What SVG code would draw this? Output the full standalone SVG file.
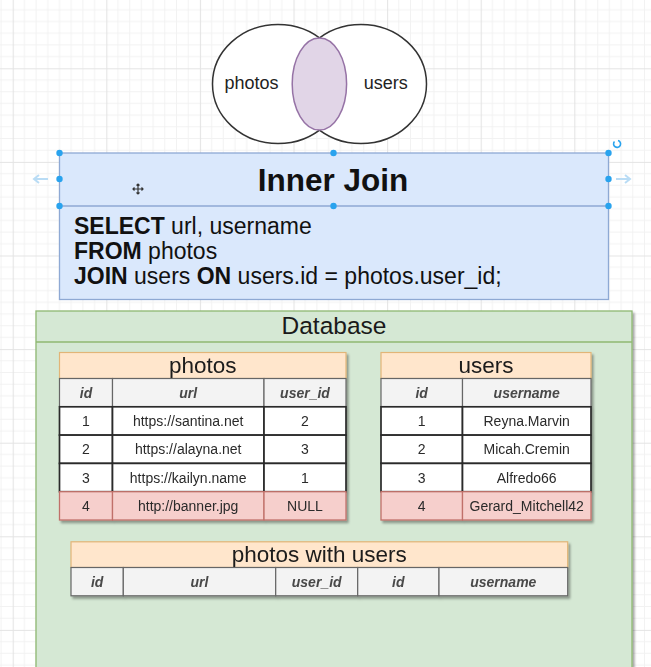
<svg xmlns="http://www.w3.org/2000/svg" width="651" height="667" viewBox="0 0 651 667">
<defs>
<pattern id="grid" patternUnits="userSpaceOnUse" x="12.7" y="68.3" width="93.6" height="93.6">
<path d="M11.7 0V93.6M23.4 0V93.6M35.1 0V93.6M46.8 0V93.6M58.5 0V93.6M70.2 0V93.6M81.9 0V93.6M0 11.7H93.6M0 23.4H93.6M0 35.1H93.6M0 46.8H93.6M0 58.5H93.6M0 70.2H93.6M0 81.9H93.6" stroke="#f2f2f2" stroke-width="1" fill="none"/>
<path d="M0.5 0V93.6M0 0.5H93.6" stroke="#e4e4e4" stroke-width="1.2" fill="none"/>
</pattern>
<filter id="sh" x="-5%" y="-5%" width="115%" height="130%">
<feDropShadow dx="2" dy="2.5" stdDeviation="1" flood-color="#000" flood-opacity="0.35"/>
</filter>
<style>
.sans{font-family:"Liberation Sans",Arial,Helvetica,sans-serif}
.venn{font-size:18px;fill:#222;text-anchor:middle}
.tt{font-size:22.5px;fill:#1a1a1a;text-anchor:middle}
.th{font-size:14px;font-weight:bold;font-style:italic;fill:#484848;text-anchor:middle}
.td{font-size:14px;fill:#2a2a2a;text-anchor:middle}
.ttl{fill:#ffe6cc;stroke:#e2b577;stroke-width:1.2}
.hdr{fill:#f3f3f3;stroke:#666;stroke-width:1.2}
.row{fill:#ffffff;stroke:#2b2b2b;stroke-width:1.7}
.bad{fill:#f6cfcc;stroke:#c0706a;stroke-width:1.3}
.dot{fill:#29a3ee}
.sql{font-size:23px;fill:#111}
</style>
</defs>
<rect x="0" y="0" width="651" height="667" fill="#ffffff"/>
<rect x="0" y="0" width="651" height="667" fill="url(#grid)"/>

<g id="venn">
<ellipse cx="278" cy="84" rx="65.5" ry="59.5" fill="#ffffff" stroke="#333" stroke-width="1.5"/>
<ellipse cx="361" cy="84" rx="65.5" ry="59.5" fill="#ffffff" stroke="#333" stroke-width="1.5"/>
<ellipse cx="319.4" cy="84" rx="27.2" ry="46" fill="#e1d5e7" stroke="#9673a6" stroke-width="1.5"/>
<text class="sans venn" x="251.6" y="88.5">photos</text>
<text class="sans venn" x="385.8" y="88.5">users</text>
</g>

<g id="inner-join">
<rect x="59.5" y="153" width="549" height="146.5" fill="#dae8fc" stroke="#8ea9d4" stroke-width="1.3"/>
<line x1="59.5" y1="206" x2="608.5" y2="206" stroke="#8ea9d4" stroke-width="1.3"/>
<text class="sans" x="333" y="190.5" font-size="31.5" font-weight="bold" fill="#111" text-anchor="middle">Inner Join</text>
<text class="sans sql" x="74" y="233.5"><tspan font-weight="bold">SELECT</tspan> url, username</text>
<text class="sans sql" x="74" y="258.8"><tspan font-weight="bold">FROM</tspan> photos</text>
<text class="sans sql" x="74" y="284.2"><tspan font-weight="bold">JOIN</tspan> users <tspan font-weight="bold">ON</tspan> users.id = photos.user_id;</text>
</g>

<g id="selection-handles">
<circle class="dot" cx="59.5" cy="153" r="3.2"/>
<circle class="dot" cx="333.5" cy="153" r="3.2"/>
<circle class="dot" cx="608.5" cy="153" r="3.2"/>
<circle class="dot" cx="59.5" cy="179" r="3.2"/>
<circle class="dot" cx="608.5" cy="179" r="3.2"/>
<circle class="dot" cx="59.5" cy="206" r="3.2"/>
<circle class="dot" cx="333.5" cy="206" r="3.2"/>
<circle class="dot" cx="608.5" cy="206" r="3.2"/>
<path d="M48 179H34M39 175L34 179L39 183" fill="none" stroke="#b9dcf5" stroke-width="2"/>
<path d="M616 179H630M625 175L630 179L625 183" fill="none" stroke="#b9dcf5" stroke-width="2"/>
<path d="M614.5 141.5 A3.5 3.5 0 1 0 618 140.5" fill="none" stroke="#29a3ee" stroke-width="1.6"/>
<path d="M138 184V194M133 189H143M136.5 185.5L138 184L139.5 185.5M136.5 192.5L138 194L139.5 192.5M134.5 187.5L133 189L134.5 190.5M141.5 187.5L143 189L141.5 190.5" fill="none" stroke="#333" stroke-width="1.2"/>
</g>

<g id="database">
<rect x="36" y="311" width="596" height="380" fill="#d5e8d4" stroke="#8fb872" stroke-width="1.3" filter="url(#sh)"/>
<line x1="36" y1="342" x2="632" y2="342" stroke="#8fb872" stroke-width="1.3"/>
<text class="sans" x="334" y="334" font-size="24.5" fill="#1a1a1a" text-anchor="middle">Database</text>
</g>

<g id="photos-table" filter="url(#sh)">
<rect class="ttl" x="59.5" y="352.5" width="286.5" height="26"/>
<text class="sans tt" x="202.7" y="372.5">photos</text>
<rect class="hdr" x="59.5" y="378.5" width="53" height="28.3"/>
<rect class="hdr" x="112.5" y="378.5" width="151.5" height="28.3"/>
<rect class="hdr" x="264" y="378.5" width="82" height="28.3"/>
<text class="sans th" x="86" y="397.5">id</text>
<text class="sans th" x="188.2" y="397.5">url</text>
<text class="sans th" x="305" y="397.5">user_id</text>
<rect class="row" x="59.5" y="406.8" width="53" height="28.3"/>
<rect class="row" x="112.5" y="406.8" width="151.5" height="28.3"/>
<rect class="row" x="264" y="406.8" width="82" height="28.3"/>
<text class="sans td" x="86" y="426">1</text>
<text class="sans td" x="188.2" y="426">https://santina.net</text>
<text class="sans td" x="305" y="426">2</text>
<rect class="row" x="59.5" y="435.1" width="53" height="28.3"/>
<rect class="row" x="112.5" y="435.1" width="151.5" height="28.3"/>
<rect class="row" x="264" y="435.1" width="82" height="28.3"/>
<text class="sans td" x="86" y="454.3">2</text>
<text class="sans td" x="188.2" y="454.3">https://alayna.net</text>
<text class="sans td" x="305" y="454.3">3</text>
<rect class="row" x="59.5" y="463.4" width="53" height="28.3"/>
<rect class="row" x="112.5" y="463.4" width="151.5" height="28.3"/>
<rect class="row" x="264" y="463.4" width="82" height="28.3"/>
<text class="sans td" x="86" y="482.6">3</text>
<text class="sans td" x="188.2" y="482.6">https://kailyn.name</text>
<text class="sans td" x="305" y="482.6">1</text>
<rect class="bad" x="59.5" y="491.7" width="53" height="28.3"/>
<rect class="bad" x="112.5" y="491.7" width="151.5" height="28.3"/>
<rect class="bad" x="264" y="491.7" width="82" height="28.3"/>
<text class="sans td" x="86" y="510.9">4</text>
<text class="sans td" x="188.2" y="510.9">http://banner.jpg</text>
<text class="sans td" x="305" y="510.9">NULL</text>
</g>

<g id="users-table" filter="url(#sh)">
<rect class="ttl" x="381" y="352.5" width="210" height="26"/>
<text class="sans tt" x="486" y="372.5">users</text>
<rect class="hdr" x="381" y="378.5" width="81.5" height="28.3"/>
<rect class="hdr" x="462.5" y="378.5" width="128.5" height="28.3"/>
<text class="sans th" x="421.7" y="397.5">id</text>
<text class="sans th" x="526.7" y="397.5">username</text>
<rect class="row" x="381" y="406.8" width="81.5" height="28.3"/>
<rect class="row" x="462.5" y="406.8" width="128.5" height="28.3"/>
<text class="sans td" x="421.7" y="426">1</text>
<text class="sans td" x="526.7" y="426">Reyna.Marvin</text>
<rect class="row" x="381" y="435.1" width="81.5" height="28.3"/>
<rect class="row" x="462.5" y="435.1" width="128.5" height="28.3"/>
<text class="sans td" x="421.7" y="454.3">2</text>
<text class="sans td" x="526.7" y="454.3">Micah.Cremin</text>
<rect class="row" x="381" y="463.4" width="81.5" height="28.3"/>
<rect class="row" x="462.5" y="463.4" width="128.5" height="28.3"/>
<text class="sans td" x="421.7" y="482.6">3</text>
<text class="sans td" x="526.7" y="482.6">Alfredo66</text>
<rect class="bad" x="381" y="491.7" width="81.5" height="28.3"/>
<rect class="bad" x="462.5" y="491.7" width="128.5" height="28.3"/>
<text class="sans td" x="421.7" y="510.9">4</text>
<text class="sans td" x="526.7" y="510.9">Gerard_Mitchell42</text>
</g>

<g id="photos-with-users-table" filter="url(#sh)">
<rect class="ttl" x="71" y="541.8" width="496.7" height="25.7"/>
<text class="sans tt" x="319.3" y="561.7">photos with users</text>
<rect class="hdr" x="71" y="567.5" width="52.3" height="28.3"/>
<rect class="hdr" x="123.3" y="567.5" width="152.4" height="28.3"/>
<rect class="hdr" x="275.7" y="567.5" width="82" height="28.3"/>
<rect class="hdr" x="357.7" y="567.5" width="81.3" height="28.3"/>
<rect class="hdr" x="439" y="567.5" width="128.7" height="28.3"/>
<text class="sans th" x="97.2" y="586.5">id</text>
<text class="sans th" x="199.5" y="586.5">url</text>
<text class="sans th" x="316.7" y="586.5">user_id</text>
<text class="sans th" x="398.3" y="586.5">id</text>
<text class="sans th" x="503.3" y="586.5">username</text>
</g>

<g id="connectors"></g>
</svg>
